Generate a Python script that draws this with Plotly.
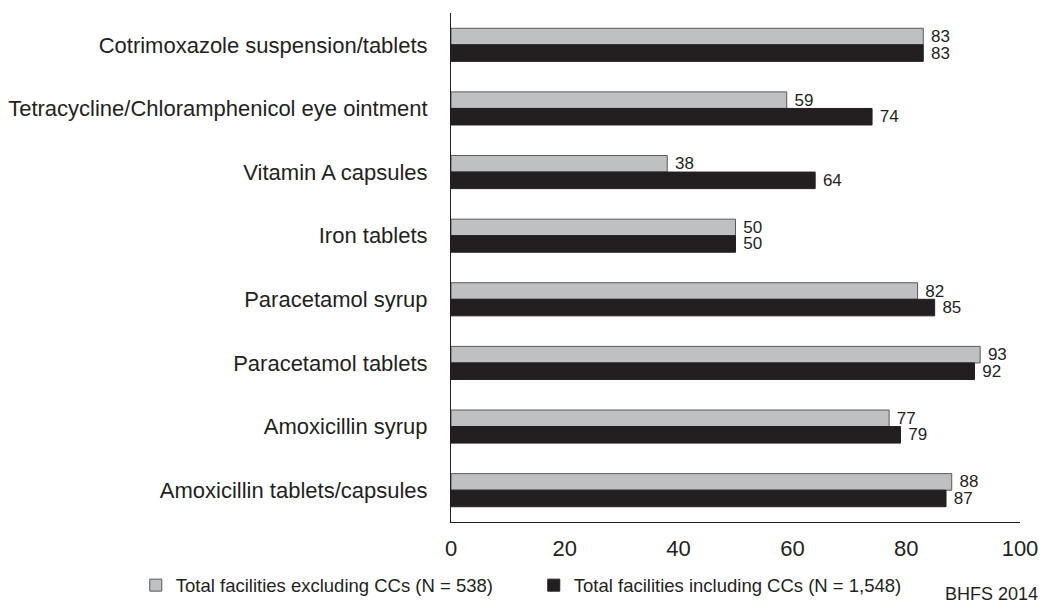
import plotly.graph_objects as go

categories = [
    "Cotrimoxazole suspension/tablets",
    "Tetracycline/Chloramphenicol eye ointment",
    "Vitamin A capsules",
    "Iron tablets",
    "Paracetamol syrup",
    "Paracetamol tablets",
    "Amoxicillin syrup",
    "Amoxicillin tablets/capsules",
]
excl_ccs = [83, 59, 38, 50, 82, 93, 77, 88]
incl_ccs = [83, 74, 64, 50, 85, 92, 79, 87]
x_ticks = [0, 20, 40, 60, 80, 100]

fig = go.Figure()
fig.add_trace(go.Bar(
    y=categories, x=excl_ccs, orientation="h",
    name="Total facilities excluding CCs (N = 538)",
    marker=dict(color="#bfc0c2", line=dict(color="#58595b", width=1)),
    texttemplate="\u00a0%{x}", textposition="outside", cliponaxis=False, constraintext="none",
    textfont=dict(size=17, color="#231f20"),
))
fig.add_trace(go.Bar(
    y=categories, x=incl_ccs, orientation="h",
    name="Total facilities including CCs (N = 1,548)",
    marker=dict(color="#231f20", line=dict(color="#231f20", width=1)),
    texttemplate="\u00a0%{x}", textposition="outside", cliponaxis=False, constraintext="none",
    textfont=dict(size=17, color="#231f20"),
))

# page body has an 8px margin, so the figure is 8px smaller than the window
fig.update_layout(
    width=1039, height=597,
    barmode="group", bargap=0.48, bargroupgap=0,
    plot_bgcolor="white", paper_bgcolor="white",
    font=dict(family="Liberation Sans, Arial, sans-serif", size=22, color="#231f20"),
    margin=dict(l=443, r=27, t=5, b=83, autoexpand=False),
    showlegend=True,
    legend=dict(orientation="h", x=-0.554, xanchor="left", y=-0.125, yanchor="middle",
                font=dict(size=18.5), itemwidth=30, entrywidth=353, entrywidthmode="pixels",
                traceorder="normal"),
    annotations=[dict(text="BHFS 2014", xref="paper", yref="paper", x=1.036, y=-0.142,
                      xanchor="right", yanchor="middle", showarrow=False, font=dict(size=18))],
)
fig.update_xaxes(range=[0, 100], tickvals=x_ticks, showgrid=False, zeroline=False,
                 showline=True, linecolor="#231f20", linewidth=1, ticks="",
                 ticklabelstandoff=7)
fig.update_yaxes(autorange="reversed", showgrid=False, showline=True,
                 linecolor="#231f20", linewidth=1, ticks="", ticklabelstandoff=18)

fig.write_html("out.html")
